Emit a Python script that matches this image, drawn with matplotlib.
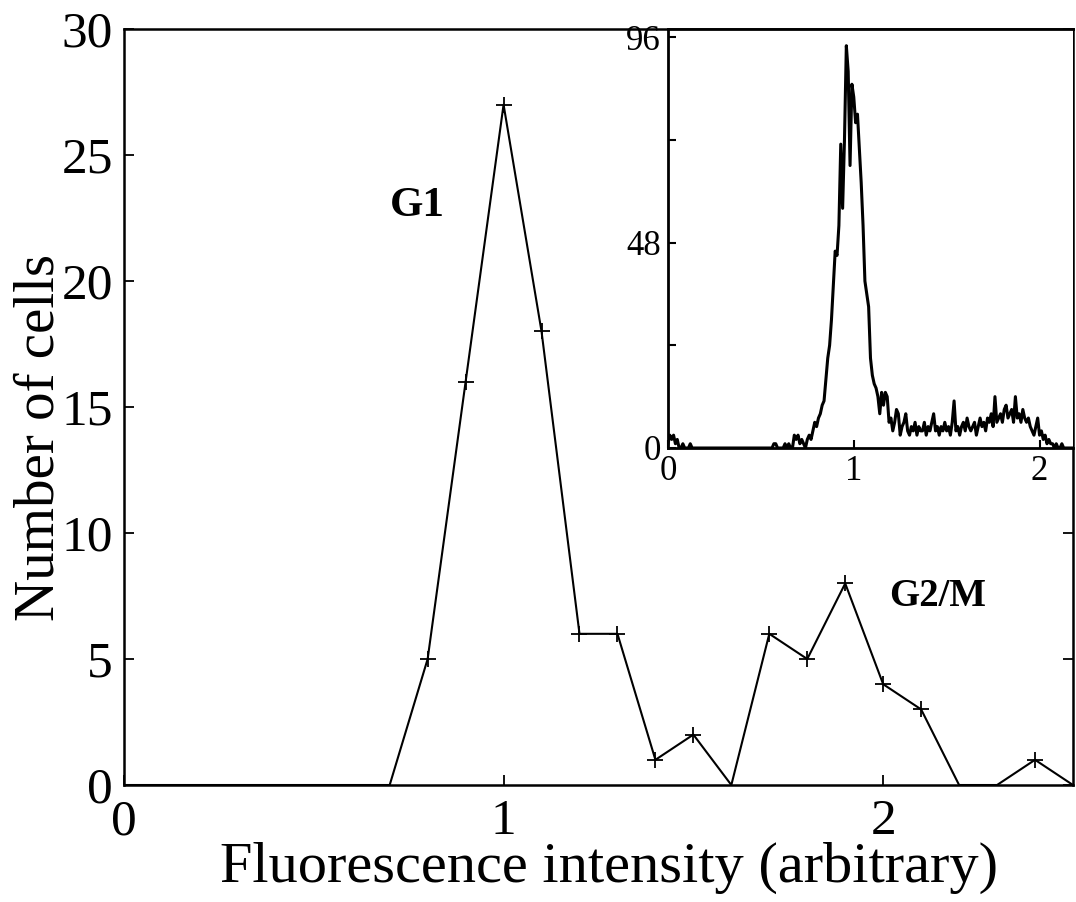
import numpy as np
import matplotlib
matplotlib.use("Agg")
import matplotlib.pyplot as plt

# Main histogram (binned), step 0.1
main_x = [0.0, 0.1, 0.2, 0.3, 0.4, 0.5, 0.6, 0.7, 0.8, 0.9, 1.0, 1.1, 1.2,
          1.3, 1.4, 1.5, 1.6, 1.7, 1.8, 1.9, 2.0, 2.1, 2.2, 2.3, 2.4, 2.5]
main_counts = [0, 0, 0, 0, 0, 0, 0, 0, 5, 16, 27, 18, 6,
               6, 1, 2, 0, 6, 5, 8, 4, 3, 0, 0, 1, 0]

# Inset flow-cytometry histogram, channel step 0.01 starting at 0
inset_start = 0.0
inset_step = 0.01
inset_counts = [
    1, 3, 2, 3, 1, 2, 0, 0, 1, 0,
    0, 0, 1, 0, 0, 0, 0, 0, 0, 0,
    0, 0, 0, 0, 0, 0, 0, 0, 0, 0,
    0, 0, 0, 0, 0, 0, 0, 0, 0, 0,
    0, 0, 0, 0, 0, 0, 0, 0, 0, 0,
    0, 0, 0, 0, 0, 0, 0, 1, 1, 0,
    0, 0, 0, 1, 0, 1, 0, 0, 3, 2,
    3, 1, 2, 1, 0, 2, 3, 2, 4, 6,
    5, 7, 8, 10, 11, 16, 21, 24, 30, 38,
    46, 45, 52, 71, 56, 72, 94, 88, 66, 85,
    82, 76, 78, 70, 62, 52, 39, 36, 33, 21,
    17, 15, 14, 12, 8, 13, 10, 13, 12, 6,
    7, 4, 6, 9, 8, 3, 5, 6, 8, 4,
    3, 5, 4, 6, 3, 5, 4, 4, 6, 3,
    5, 4, 6, 8, 4, 5, 3, 5, 4, 6,
    4, 5, 3, 6, 11, 4, 5, 3, 5, 6,
    4, 7, 5, 4, 5, 6, 3, 5, 7, 5,
    6, 4, 7, 6, 8, 5, 12, 6, 7, 8,
    6, 9, 10, 7, 8, 9, 6, 12, 7, 8,
    6, 9, 7, 6, 7, 5, 4, 3, 5, 7,
    3, 4, 2, 3, 1, 2, 1, 1, 0, 1,
    0, 0, 1, 0, 0, 0, 0, 0, 0,
]

main_xticks = [0, 1, 2]
main_yticks = [0, 5, 10, 15, 20, 25, 30]
inset_xticks = [0, 1, 2]
inset_yticks = [0, 48, 96]
inset_yminor = [24, 72]

plt.rcParams['font.family'] = ['Liberation Serif', 'DejaVu Serif']

fig = plt.figure(figsize=(10.76, 9.02), dpi=100)
ax = fig.add_axes([0.1152, 0.1297, 0.9972 - 0.1152, 0.9678 - 0.1297])

marks = [c > 0 for c in main_counts]
ax.plot(main_x, main_counts, color='black', lw=1.5, marker='+',
        markersize=11, markeredgewidth=1.3, markevery=marks)
ax.set_xlim(0, 2.5)
ax.set_ylim(0, 30)
ax.set_xticks(main_xticks)
ax.set_yticks(main_yticks)
ax.tick_params(direction='in', length=7, width=1.3, labelsize=37,
               right=True, top=False, pad=8)
ax.tick_params(axis='x', pad=10)
for s in ax.spines.values():
    s.set_linewidth(1.8)
ax.set_xlabel('Fluorescence intensity (arbitrary)', fontsize=42)
ax.set_ylabel('Number of cells', fontsize=41)
ax.xaxis.set_label_coords(0.511, -0.075)
ax.yaxis.set_label_coords(-0.062, 0.46)

ax.text(0.70, 22.6, 'G1', fontsize=31, fontweight='bold')
ax.text(2.016, 7.1, 'G2/M', fontsize=28, fontweight='bold')

# Inset
ins = fig.add_axes([0.6208, 1 - 448 / 902, 1 - 0.0028 - 0.6208, (448 - 29) / 902])
inset_x = inset_start + inset_step * np.arange(len(inset_counts))
ins.plot(inset_x, inset_counts, color='black', lw=2.2)
ins.set_xlim(0, 2.18)
ins.set_ylim(0, 97.9)
ins.set_xticks(inset_xticks)
ins.set_yticks(inset_yticks)
ins.set_yticks(inset_yminor, minor=True)
ins.tick_params(direction='in', length=6, width=1.5, labelsize=25, pad=5)
ins.tick_params(which='minor', direction='in', length=6, width=1.5)
for s in ins.spines.values():
    s.set_linewidth(2.0)
ins.spines['right'].set_visible(False)

fig.savefig('out.png', dpi=100)
